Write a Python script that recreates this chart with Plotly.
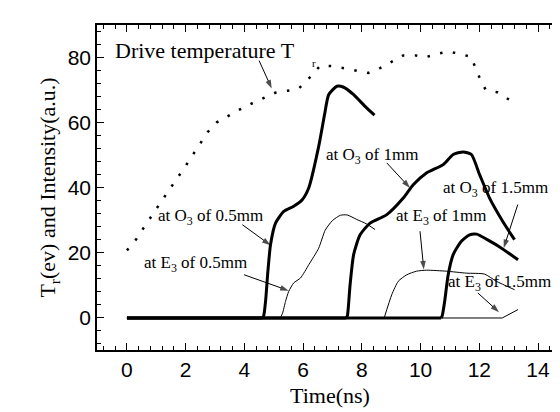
import plotly.graph_objects as go

# ---- data ----
drive_x = [0, 0.32, 0.58, 0.86, 1.13, 1.39, 2.0, 2.4, 2.75, 3.06, 3.45, 3.85, 4.25, 4.64,
           5.05, 5.46, 5.85, 6.25, 6.59, 7.02, 7.42, 7.81, 8.22, 8.62, 9.02, 9.41, 9.81,
           10.15, 10.54, 10.94, 11.33, 11.73, 11.86, 12.03, 12.21, 12.63, 13.08]
drive_y = [20.8, 24.3, 27.9, 31.8, 35.2, 38.8, 46.8, 52.2, 57.2, 60.2, 62.2, 64.2, 66.0, 67.7,
           69.3, 69.9, 70.6, 74.2, 77.7, 77.5, 76.8, 76.1, 75.4, 76.9, 78.8, 80.8, 80.8,
           80.2, 81.2, 82.0, 81.3, 80.3, 77.1, 73.5, 70.3, 69.4, 66.8]

o05_x = [0, 4.62, 4.66, 4.72, 4.80, 4.89, 5.06, 5.34, 5.68, 5.97, 6.19, 6.53, 6.73, 6.87,
         7.15, 7.38, 7.72, 8.11, 8.43]
o05_y = [0, 0, 0.8, 5.1, 14.4, 22.6, 29.2, 32.8, 34.4, 36.4, 40.0, 52.8, 62.6, 68.7,
         71.3, 71.0, 68.7, 65.1, 62.4]

e05_x = [0, 5.22, 5.30, 5.40, 5.51, 5.68, 5.91, 6.20, 6.53, 6.75, 7.0, 7.27, 7.50, 7.83,
         8.15, 8.45]
e05_y = [0, 0, 1.5, 5.1, 8.2, 10.8, 12.3, 16.5, 21.5, 27.0, 30.0, 31.6, 31.7, 30.3,
         29.0, 27.2]

o1_x = [0, 7.47, 7.51, 7.60, 7.72, 7.94, 8.28, 8.85, 9.41, 9.75, 10.20, 10.77, 11.11,
        11.45, 11.73, 12.01, 12.35, 12.80, 13.20]
o1_y = [0, 0, 0.8, 10.3, 19.5, 25.6, 29.2, 31.8, 36.9, 41.0, 44.6, 47.2, 50.3,
        51.1, 50.3, 44.1, 36.9, 29.7, 24.1]

e1_x = [0, 8.76, 9.02, 9.24, 9.53, 9.86, 10.20, 10.88, 11.56, 12.18, 12.58, 13.20]
e1_y = [0, 0, 7.2, 11.3, 13.3, 14.4, 14.7, 14.4, 13.8, 13.5, 11.3, 8.7]

o15_x = [0, 10.70, 10.74, 10.82, 10.94, 11.11, 11.39, 11.67, 11.91, 12.27, 12.72, 13.32]
o15_y = [0, 0, 0.8, 5.1, 13.3, 19.5, 23.6, 25.6, 25.8, 24.1, 21.7, 17.9]

e15_x = [0, 12.78, 13.32]
e15_y = [0, 0, 2.6]

# labels: (text, text_x, text_y, arrow_tail_x, arrow_tail_y, arrow_head_x, arrow_head_y)
labels = [
    ("at O<sub>3</sub> of 0.5mm", 2.85, 31.0, 3.93, 28.7, 4.89, 22.4),
    ("at E<sub>3</sub> of 0.5mm", 2.33, 16.6, 3.99, 13.3, 5.51, 8.4),
    ("at O<sub>3</sub> of 1mm", 8.34, 49.7, 8.85, 47.7, 9.64, 40.0),
    ("at O<sub>3</sub> of 1.5mm", 12.54, 39.7, 13.31, 34.9, 12.83, 21.5),
    ("at E<sub>3</sub> of 1mm", 10.71, 31.0, 9.98, 26.7, 10.11, 14.9),
    ("at E<sub>3</sub> of 1.5mm", 12.68, 10.8, 11.95, 7.7, 12.67, 1.8),
]
drive_label = ("Drive temperature T", 2.66, 82.2, 4.50, 79.2, 4.93, 70.6)

serif = "Liberation Serif, Times New Roman, serif"
sans = "Liberation Sans, Arial, sans-serif"

fig = go.Figure()
fig.add_trace(go.Scatter(x=drive_x, y=drive_y, mode="lines",
                         line=dict(color="black", width=2.5, dash="2.5px,10.5px")))

thick = dict(color="black", width=3)
thin = dict(color="black", width=1)
for xs, ys, ln in [(e05_x, e05_y, thin), (e1_x, e1_y, thin), (e15_x, e15_y, thin),
                   (o05_x, o05_y, thick), (o1_x, o1_y, thick), (o15_x, o15_y, thick)]:
    # flat baseline part
    fig.add_trace(go.Scatter(x=xs[:2], y=ys[:2], mode="lines", line=ln))
    # rising/pulse part, smoothed
    fig.add_trace(go.Scatter(x=xs[1:], y=ys[1:], mode="lines",
                             line=dict(ln, shape="spline", smoothing=0.6)))

# arrows as two-point traces with an arrow marker at the head
for _, _, _, tx_, ty_, hx, hy in [drive_label] + labels:
    fig.add_trace(go.Scatter(
        x=[tx_, hx], y=[ty_, hy], mode="lines+markers",
        line=dict(color="black", width=1),
        marker=dict(symbol=["circle", "arrow"], size=[0, 9], angleref="previous",
                    color="black", line=dict(width=0)),
        hoverinfo="skip"))

ann = []
ann.append(dict(x=drive_label[1], y=drive_label[2], text=drive_label[0], showarrow=False,
                font=dict(family=serif, size=22, color="black")))
ann.append(dict(x=6.52, y=78.6, text="r", showarrow=False, xanchor="right",
                font=dict(family=serif, size=11, color="black")))
for t, tx, ty, *_ in labels:
    ann.append(dict(x=tx, y=ty, text=t, showarrow=False,
                    font=dict(family=serif, size=17, color="black")))

axis_common = dict(showline=True, linecolor="black", linewidth=1.5, mirror="allticks",
                   ticks="inside", ticklen=7, tickwidth=1.3, tickcolor="black",
                   showgrid=False, zeroline=False,
                   tickfont=dict(family=sans, size=21, color="black"))

fig.update_layout(
    width=560, height=412,
    margin=dict(l=89, r=3, t=17, b=70),
    paper_bgcolor="white", plot_bgcolor="white",
    showlegend=False,
    annotations=ann,
    xaxis=dict(axis_common, range=[-1.02, 14.85], tickmode="linear", tick0=0, dtick=2,
               minor=dict(dtick=0.4, tick0=0, ticks="inside", ticklen=4, tickcolor="black",
                          tickwidth=1),
               title=dict(text="Time(ns)", font=dict(family=serif, size=22, color="black"),
                          standoff=8)),
    yaxis=dict(axis_common, range=[-9.85, 90.15], tickmode="linear", tick0=0, dtick=20,
               minor=dict(dtick=4, tick0=0, ticks="inside", ticklen=4, tickcolor="black",
                          tickwidth=1),
               title=dict(text="T<sub>r</sub>(ev) and Intensity(a.u.)",
                          font=dict(family=serif, size=22, color="black"), standoff=6)),
)
fig.write_html("out.html")
